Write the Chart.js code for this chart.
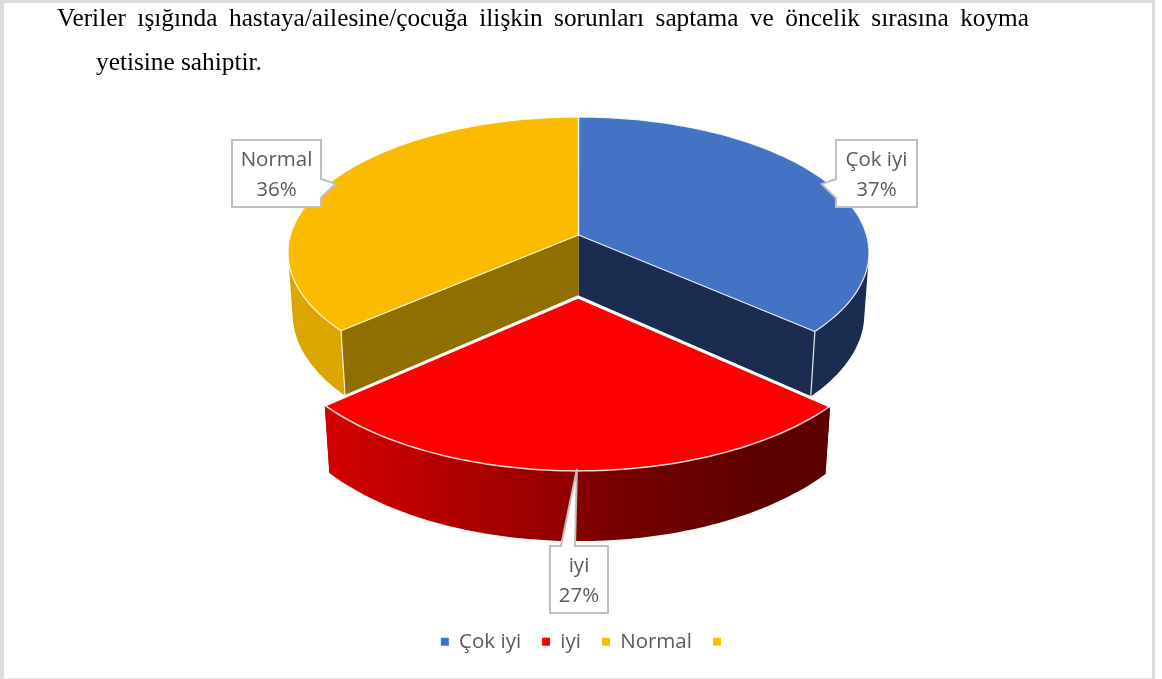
<!DOCTYPE html>
<html lang="tr">
<head>
<meta charset="utf-8">
<title>Pie</title>
<script src="https://cdn.jsdelivr.net/npm/chart.js@4"></script>
<style>
  html, body { margin: 0; padding: 0; background: #fff; }
  #stage { position: relative; width: 1162px; height: 679px; overflow: hidden; }
  #frame { position: absolute; left: 0; top: 0; width: 1148px; height: 675px; border: solid #dcdcdc; border-width: 3px 3px 1px 4px; border-bottom-color: #e6e6e6; }
  canvas { position: absolute; left: 0; top: 0; }
  .line { position: absolute; font-family: "Liberation Serif", serif; font-size: 25.3px; color: #000; white-space: nowrap; line-height: 30px; }
  #line1 { left: 57px; top: 2px; width: 972px; white-space: normal; text-align: justify; text-align-last: justify; }
  #line2 { left: 96px; top: 46px; }
</style>
</head>
<body>
<div id="stage">
  <div id="frame"></div>
  <canvas id="pieChart" width="1162" height="679"></canvas>
  <div class="line" id="line1">Veriler ışığında hastaya/ailesine/çocuğa ilişkin sorunları saptama ve öncelik sırasına koyma</div>
  <div class="line" id="line2">yetisine sahiptir.</div>
</div>
<script>
const categories = ['Çok iyi', 'iyi', 'Normal', ''];
const shares = [36.5, 27.1, 36.4, 0];
const sliceColors = ['#4472c4', '#ff0000', '#fbbc00', '#ffc000'];

// camera used to tilt the pie
const view = { centerX: 578.5, centerY: 235, tilt: 133.3, near: 0.13, depth: 62, far: 0.016, explode: 0.4386 };
const explodedSlice = 1;
const boxes = [
    { x: 836, y: 140, w: 81, h: 67, side: 'left' },
    { x: 550, y: 546, w: 58, h: 67, side: 'top' },
    { x: 232, y: 140, w: 89, h: 67, side: 'right' }
];
const labelFont = '20.5px "Open Sans"';
const labelColor = '#595959';

function project(arc, u, v, z) {
    const w = 1 - view.near * v + view.far * z;
    return {
        x: view.centerX + arc.outerRadius * u / w,
        y: view.centerY + (view.tilt * v + view.depth * z) / w
    };
}

function sliceOrigin(arc, index) {
    if (index !== explodedSlice) return { u: 0, v: 0 };
    const mid = (arc.startAngle + arc.endAngle) / 2;
    return { u: Math.cos(mid) * view.explode, v: Math.sin(mid) * view.explode };
}

function rimPoints(arc, origin, z) {
    const points = [];
    const steps = 80;
    for (let i = 0; i <= steps; i++) {
        const a = arc.startAngle + (arc.endAngle - arc.startAngle) * i / steps;
        points.push(project(arc, origin.u + Math.cos(a), origin.v + Math.sin(a), z));
    }
    return points;
}

// lineTo on an empty path acts as moveTo
function tracePoints(ctx, points) {
    points.forEach(p => ctx.lineTo(p.x, p.y));
}

function signedArea(points) {
    let sum = 0;
    points.forEach((p, i) => {
        const q = points[(i + 1) % points.length];
        sum += p.x * q.y - q.x * p.y;
    });
    return sum;
}

function wallFill(ctx, index, top) {
    const left = top[top.length - 1].x;
    const right = top[0].x;
    if (index === 1) {
        const g = ctx.createLinearGradient(left, 0, right, 0);
        g.addColorStop(0, '#d40000');
        g.addColorStop(0.46, '#950000');
        g.addColorStop(0.55, '#7a0000');
        g.addColorStop(0.87, '#5c0000');
        g.addColorStop(1, '#5c0000');
        return g;
    }
    return index === 0 ? '#1a2c50' : '#dba600';
}

function drawSlice(ctx, arc, index) {
    const origin = sliceOrigin(arc, index);
    const top = rimPoints(arc, origin, 0);
    const bottom = rimPoints(arc, origin, 1);
    const apexTop = project(arc, origin.u, origin.v, 0);
    const apexBottom = project(arc, origin.u, origin.v, 1);
    const inner = ['#1a2c50', '#5c0000', '#8f6f00'][index];

    // the two flat cut walls
    [top[0], top[top.length - 1]].forEach((p, i) => {
        const q = i === 0 ? bottom[0] : bottom[bottom.length - 1];
        ctx.beginPath();
        tracePoints(ctx, [apexTop, p, q, apexBottom]);
        ctx.closePath();
        ctx.fillStyle = inner;
        ctx.fill();
    });

    // outer wall, only the quads facing the viewer, all in one path so no seams
    ctx.beginPath();
    for (let i = 0; i < top.length - 1; i++) {
        const quad = [top[i], top[i + 1], bottom[i + 1], bottom[i]];
        if (signedArea(quad) >= 0) continue;
        ctx.moveTo(quad[0].x, quad[0].y);
        tracePoints(ctx, quad.slice(1));
        ctx.closePath();
    }
    ctx.fillStyle = wallFill(ctx, index, top);
    ctx.fill();

    if (index !== explodedSlice) {
        [[top[0], bottom[0]], [top[top.length - 1], bottom[bottom.length - 1]]].forEach(edge => {
            ctx.beginPath();
            tracePoints(ctx, edge);
            ctx.strokeStyle = 'rgba(255,255,255,0.85)';
            ctx.lineWidth = 1.2;
            ctx.stroke();
        });
    }

    // top face
    ctx.beginPath();
    tracePoints(ctx, [apexTop]);
    tracePoints(ctx, top);
    ctx.closePath();
    ctx.fillStyle = arc.options.backgroundColor;
    ctx.fill();
    ctx.strokeStyle = 'rgba(255,255,255,0.85)';
    ctx.lineWidth = index === explodedSlice ? 1.5 : 1.2;
    ctx.stroke();

    if (index === explodedSlice) {
        ctx.beginPath();
        tracePoints(ctx, [top[0], apexTop, top[top.length - 1]]);
        ctx.strokeStyle = '#fff';
        ctx.lineWidth = 3;
        ctx.stroke();
    }
}

function drawCallout(ctx, arc, index) {
    const box = boxes[index];
    const mid = (arc.startAngle + arc.endAngle) / 2;
    const origin = sliceOrigin(arc, index);
    const reach = index === explodedSlice ? 0.99 : 0.975;
    const tip = project(arc, origin.u + Math.cos(mid) * reach, origin.v + Math.sin(mid) * reach, 0);

    ctx.beginPath();
    ctx.moveTo(box.x, box.y);
    if (box.side === 'top') {
        ctx.lineTo(box.x + 11, box.y);
        ctx.lineTo(tip.x, tip.y);
        ctx.lineTo(box.x + 25, box.y);
    }
    ctx.lineTo(box.x + box.w, box.y);
    if (box.side === 'right') {
        ctx.lineTo(box.x + box.w, box.y + 39);
        ctx.lineTo(tip.x, tip.y);
        ctx.lineTo(box.x + box.w, box.y + 58);
    }
    ctx.lineTo(box.x + box.w, box.y + box.h);
    ctx.lineTo(box.x, box.y + box.h);
    if (box.side === 'left') {
        ctx.lineTo(box.x, box.y + 58);
        ctx.lineTo(tip.x, tip.y);
        ctx.lineTo(box.x, box.y + 39);
    }
    ctx.closePath();
    ctx.fillStyle = '#fff';
    ctx.fill();
    ctx.strokeStyle = '#bfbfbf';
    ctx.lineWidth = 2;
    ctx.stroke();

    ctx.fillStyle = labelColor;
    ctx.font = labelFont;
    ctx.textAlign = 'center';
    ctx.textBaseline = 'middle';
    ctx.fillText(categories[index], box.x + box.w / 2, box.y + 20);
    ctx.fillText(Math.round(shares[index]) + '%', box.x + box.w / 2, box.y + 50);
}

const tiltedPie = {
    id: 'tiltedPie',
    beforeDatasetDraw(chart, args) {
        const ctx = chart.ctx;
        const arcs = args.meta.data;
        ctx.save();
        ctx.lineJoin = 'round';
        [0, 2, 1].forEach(i => drawSlice(ctx, arcs[i], i));
        ctx.restore();
        return false;
    },
    afterDraw(chart) {
        const ctx = chart.ctx;
        const arcs = chart.getDatasetMeta(0).data;
        ctx.save();
        [0, 1, 2].forEach(i => drawCallout(ctx, arcs[i], i));
        ctx.restore();
    }
};

new Chart(document.getElementById('pieChart').getContext('2d'), {
    type: 'pie',
    data: {
        labels: categories,
        datasets: [{
            data: shares,
            backgroundColor: sliceColors,
            borderWidth: 0,
            radius: 288
        }]
    },
    options: {
        responsive: false,
        animation: false,
        layout: { padding: { left: 10, bottom: 17 } },
        plugins: {
            tooltip: { enabled: false },
            legend: {
                position: 'bottom',
                labels: {
                    boxWidth: 8,
                    boxHeight: 8,
                    padding: 21,
                    color: labelColor,
                    font: { family: '"Open Sans"', size: 20.5 }
                }
            }
        }
    },
    plugins: [tiltedPie]
});
</script>
</body>
</html>
